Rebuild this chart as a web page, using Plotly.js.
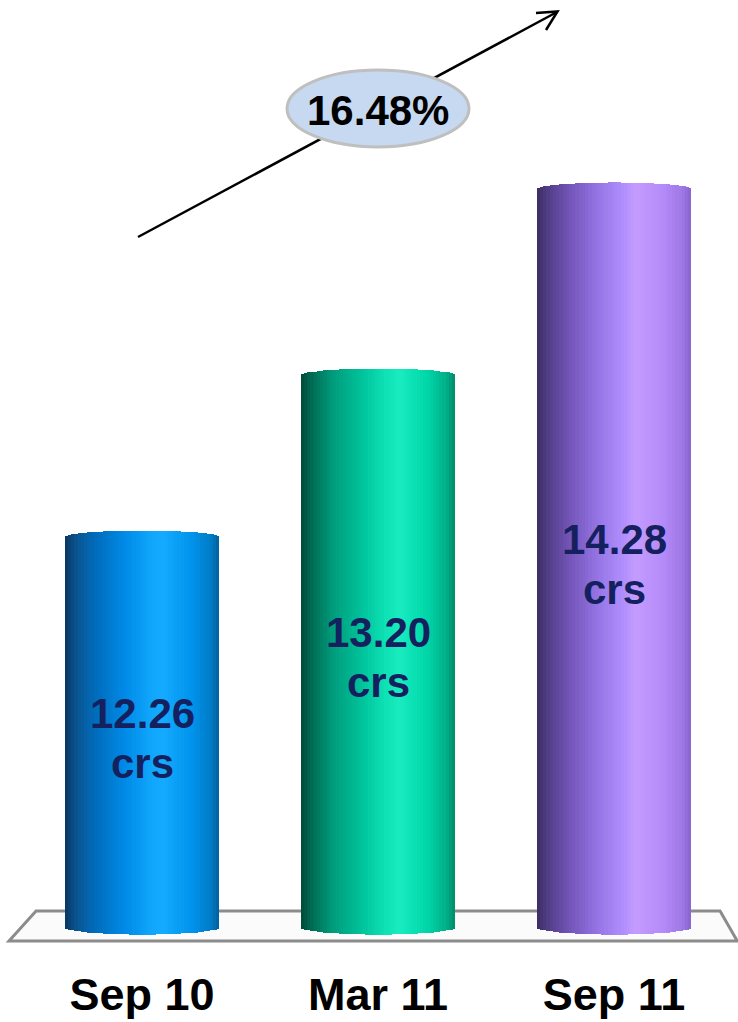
<!DOCTYPE html>
<html>
<head>
<meta charset="utf-8">
<script src="https://cdn.plot.ly/plotly-3.0.1.min.js"></script>
<style>
html,body{margin:0;padding:0;background:#fff;}
#chart{width:738px;height:1022px;}
</style>
</head>
<body>
<div id="chart"></div>
<script>
// ---- data ----
const categories = ["Sep 10", "Mar 11", "Sep 11"];
const values = [12.26, 13.20, 14.28];
const unitLabel = "crs";
const growthLabel = "16.48%";
const axisBase = 10;

// ---- styling ----
const W = 738, H = 1022;
const plotBottomPx = 950;            // plot area height (margin top 0)
const yRange = [9.8665, 15.38];
const xRange = [-0.6017, 2.525];
const barWidth = 0.655;
const capTop = 0.041, capBot = 0.044; // ellipse half-heights in data units
const N = 48;
const FONT = "Liberation Sans, Arial, sans-serif";

const gradients = [
  [[0,"#083560"],[0.08,"#0a5592"],[0.2,"#006cbc"],[0.4,"#008ce8"],[0.56,"#10a6fc"],[0.64,"#14aaff"],[0.82,"#0094ec"],[0.94,"#007cc8"],[1,"#00609c"]],
  [[0,"#004a38"],[0.08,"#006e56"],[0.2,"#009a7a"],[0.4,"#00c49c"],[0.56,"#10e4b6"],[0.64,"#18ecc0"],[0.82,"#00d6a8"],[0.94,"#00b088"],[1,"#008a6a"]],
  [[0,"#3c2c5e"],[0.08,"#54408a"],[0.2,"#7052b4"],[0.4,"#9676e6"],[0.56,"#b08efe"],[0.64,"#c49cff"],[0.82,"#b48af8"],[0.94,"#9e78e6"],[1,"#8664cc"]]
];

function hex2rgb(h){return [parseInt(h.substr(1,2),16),parseInt(h.substr(3,2),16),parseInt(h.substr(5,2),16)];}
function colorAt(stops,u){
  for(let i=0;i<stops.length-1;i++){
    const [p0,c0]=stops[i],[p1,c1]=stops[i+1];
    if(u>=p0&&u<=p1){
      const t=(u-p0)/(p1-p0),a=hex2rgb(c0),b=hex2rgb(c1);
      return "rgb("+a.map((v,j)=>Math.round(v+(b[j]-v)*t)).join(",")+")";
    }
  }
  return stops[stops.length-1][1];
}

const traces = [];
const w = barWidth / N;
for (let k = 0; k < N; k++) {
  const u = (k + 0.5) / N;
  const s = 2*u - 1;
  const h = Math.sqrt(Math.max(0, 1 - s*s));
  const bases = values.map(() => axisBase - capBot*h);
  const tops = values.map(v => v + capTop*h);
  traces.push({
    type: "bar",
    x: categories,
    y: tops.map((t,i) => t - bases[i]),
    base: bases,
    width: (k < N-1) ? w*1.25 : w,
    offset: -barWidth/2 + k*w,
    marker: {color: categories.map((c,i) => colorAt(gradients[i], u)), line: {width: 0}},
    hoverinfo: "skip",
    showlegend: false
  });
}

// pixel -> paper helpers for decorations
const px = x => x / W;
const py = y => 1 - y / plotBottomPx;

const n = categories.length;
const shapes = [
  // floor plane
  {type:"path", xref:"x", yref:"y", layer:"below",
   path:`M -0.449 ${axisBase+0.093} L ${n-1+0.449} ${axisBase+0.093} L ${n-1+0.522} ${axisBase-0.081} L -0.5636 ${axisBase-0.081} Z`,
   fillcolor:"#fbfbfb", line:{color:"#8c8c8c", width:3}},
  // growth arrow
  {type:"line", xref:"paper", yref:"paper", x0:px(138), y0:py(237), x1:px(557), y1:py(12),
   line:{color:"#000", width:2.5}},
  {type:"path", xref:"paper", yref:"paper",
   path:`M ${px(536)} ${py(13)} L ${px(557.5)} ${py(11.5)} L ${px(546)} ${py(30)}`,
   line:{color:"#000", width:2.5}},
  // growth bubble
  {type:"circle", xref:"paper", yref:"paper", x0:px(287), x1:px(469), y0:py(147), y1:py(70),
   fillcolor:"#c6d9f0", line:{color:"#bfbfbf", width:3}}
];

const annotations = [
  {xref:"paper", yref:"paper", x:px(378), y:py(110), xanchor:"center", yanchor:"middle",
   text:"<b>"+growthLabel+"</b>", showarrow:false,
   font:{family:FONT, size:42, color:"#000"}}
];
values.forEach((v,i) => {
  const mid = (axisBase + v) / 2;
  annotations.push({x:categories[i], y:mid, yshift:19, xanchor:"center", yanchor:"middle",
    text:"<b>"+v.toFixed(2)+"</b>", showarrow:false,
    font:{family:FONT, size:42, color:"#14215e"}});
  annotations.push({x:categories[i], y:mid, yshift:-31, xanchor:"center", yanchor:"middle",
    text:"<b>"+unitLabel+"</b>", showarrow:false,
    font:{family:FONT, size:42, color:"#14215e"}});
});

const layout = {
  width: W, height: H,
  margin: {l:0, r:0, t:0, b:H - plotBottomPx, pad:0},
  paper_bgcolor:"#fff", plot_bgcolor:"#fff",
  barmode: "overlay",
  bargap: 0,
  xaxis: {type:"category", range:xRange, showgrid:false, zeroline:false, showline:false,
    ticks:"", ticklabelstandoff:14,
    tickfont:{family:FONT, size:45, color:"#000", weight:"bold"},
    fixedrange:true},
  yaxis: {range:yRange, visible:false, showgrid:false, zeroline:false, fixedrange:true},
  shapes: shapes,
  annotations: annotations,
  showlegend: false
};

Plotly.newPlot("chart", traces, layout, {displayModeBar:false, staticPlot:true});
</script>
</body>
</html>
